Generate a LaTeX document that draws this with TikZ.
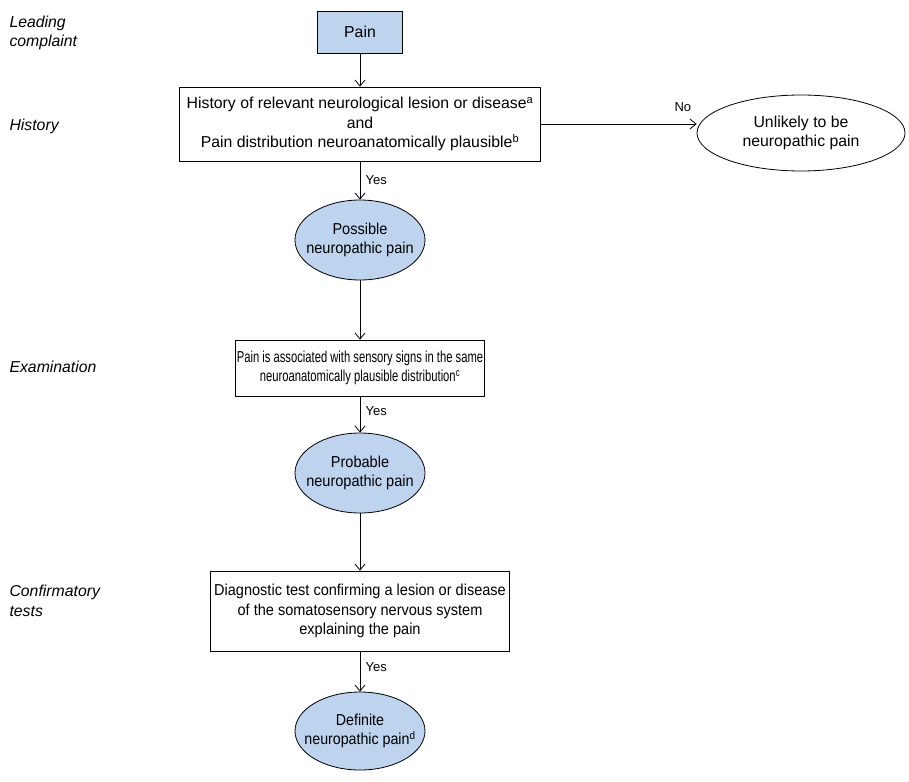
\documentclass[tikz,border=0pt]{standalone}
\usepackage{fontspec}
\usepackage{graphicx}
\setmainfont{Liberation Sans}
\usetikzlibrary{arrows.meta,shapes.geometric}
\definecolor{blu}{HTML}{BDD3EE}
\newcommand{\hsq}[2]{\scalebox{#1}[1]{#2}}
\begin{document}
\begin{tikzpicture}[x=1pt,y=-1pt,
  every node/.style={font=\fontsize{15.8}{19.5}\selectfont},
  box/.style={draw,line width=0.8pt,align=center,inner sep=0pt},
  ell/.style={draw,ellipse,line width=0.8pt,align=center,inner ysep=0pt,inner xsep=-16pt},
  side/.style={font=\fontsize{15.8}{19.5}\selectfont\itshape,align=left,anchor=west},
  arr/.style={draw,line width=0.8pt,-{Straight Barb[length=6pt,width=10pt]}},
  lab/.style={font=\fontsize{13}{16}\selectfont,anchor=west}]
\useasboundingbox (0,0) rectangle (909,781);
\node[box,fill=blu,minimum width=85,minimum height=42] (pain) at (360,32) {Pain};
\node[box,minimum width=361,minimum height=74] (hist) at (360,124) {History of relevant neurological lesion or disease\textsuperscript{a}\\and\\Pain distribution neuroanatomically plausible\textsuperscript{b}};
\node[ell,inner xsep=0pt,minimum width=208,minimum height=76] (unl) at (801,133) {Unlikely to be\\neuropathic pain};
\node[ell,fill=blu,minimum width=130,minimum height=80] (poss) at (360,240) {\hsq{0.92}{Possible}\\\hsq{0.92}{neuropathic pain}};
\node[box,minimum width=249,minimum height=56] (exam) at (360,368) {\hsq{0.71}{Pain is associated with sensory signs in the same}\\\hsq{0.71}{neuroanatomically plausible distribution\textsuperscript{c}}};
\node[ell,fill=blu,minimum width=130,minimum height=80] (prob) at (360,473) {\hsq{0.92}{Probable}\\\hsq{0.92}{neuropathic pain}};
\node[box,minimum width=299,minimum height=80] (conf) at (360,611) {\hsq{0.92}{Diagnostic test confirming a lesion or disease}\\\hsq{0.92}{of the somatosensory nervous system}\\\hsq{0.92}{explaining the pain}};
\node[ell,fill=blu,minimum width=130,minimum height=78] (def) at (360,731) {\hsq{0.9}{Definite}\\\hsq{0.9}{neuropathic pain\textsuperscript{d}}};
\node[side] (l1) at (6,33) {Leading\\complaint};
\node[side] (l2) at (6,126) {History};
\node[side] (l3) at (6,367) {Examination};
\node[side] (l4) at (6,601) {Confirmatory\\tests};
\path[arr] (pain) -- (hist);
\path[arr] (hist.east) -- (hist.east -| unl.west) coordinate (e1);
\node[lab] (no) at (671,107) {No};
\path[arr] (hist) -- (poss) node[lab,pos=0.5,right=2pt] (y1) {Yes};
\path[arr] (poss) -- (exam);
\path[arr] (exam) -- (prob) node[lab,pos=0.4,right=2pt] (y2) {Yes};
\path[arr] (prob) -- (conf);
\path[arr] (conf) -- (def) node[lab,pos=0.4,right=2pt] (y3) {Yes};
\end{tikzpicture}
\end{document}
